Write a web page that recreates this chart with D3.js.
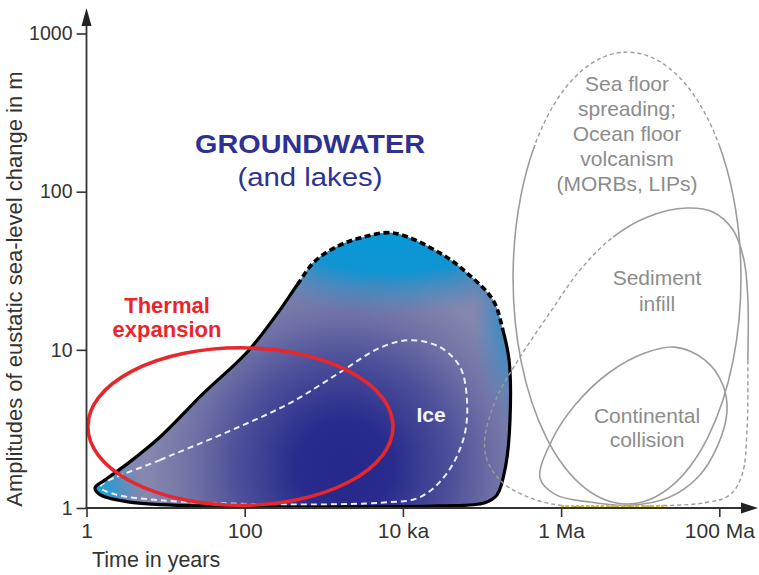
<!DOCTYPE html>
<html><head><meta charset="utf-8">
<script src="https://cdn.jsdelivr.net/npm/d3@7"></script>
<style>
body{margin:0;background:#fff}
svg{display:block}
text{font-family:"Liberation Sans",Arial,Helvetica,sans-serif}
</style>
</head><body>
<svg id="chart" width="759" height="575"></svg>
<script>
// ---------- data ----------
const xTicks = [1, 100, 1e4, 1e6, 1e8];
const xTickLabels = ["1", "100", "10 ka", "1 Ma", "100 Ma"];
const yTicks = [1, 10, 100, 1000];
const yTickLabels = ["1", "10", "100", "1000"];

// Groundwater envelope (time in years, amplitude in m); top part from index 19 back to 0 is dashed
const groundwaterTime = [1.38e5,1.84e5,2.2e5,2.26e5,2.0e5,1.55e5,1.09e5,2.9e4,1200,27,3.5,1.5,1.28,1.7,3.5,8.5,30,110,280,460,774,1513,2870,7500,29400,64600];
const groundwaterAmp  = [20.6,13.3,8.6,3.6,1.87,1.21,1.08,1.03,1.015,1.03,1.09,1.21,1.34,1.5,1.95,2.81,5.3,9.8,17.9,25.7,36.4,45.3,50.9,54.8,40.9,30.6];
const groundwaterDashFrom = 19;

// Ice envelope
const iceTime = [1.49,8.5,60,374,1600,5130,12300,29400,52700,64600,59200,36100,16400,5130,117,8.5,2.3];
const iceAmp  = [1.36,2.01,3.02,4.61,7.2,10.3,11.5,10.4,7.8,4.8,2.81,1.66,1.17,1.08,1.06,1.12,1.22];

// Thermal expansion (ellipse extents)
const thermalTimeRange = [1.04, 7500];
const thermalAmpRange  = [1.04, 10.3];

// Sea floor spreading (ellipse extents), dashed above given amplitude
const spreadingTimeRange = [2.47e5, 1.88e8];
const spreadingAmpRange  = [1.06, 763];
const spreadingDashAbove = 197;

// Sediment infill envelope; dashed from index 8 back to 0
const sedimentTime = [1.73e6,4.53e6,1.22e7,3.9e7,8.3e7,1.49e8,2.05e8,2.3e8,2.3e8,2.24e8,1.94e8,1.36e8,6.6e7,1.33e7,3.1e6,9.7e5,4.05e5,1.84e5,1.16e5,1.09e5,1.55e5,3.03e5,7.2e5];
const sedimentAmp  = [31.9,51.6,69,78.8,74.3,57.2,37,20.6,8.6,3.11,1.62,1.21,1.08,1.03,1.015,1.04,1.16,1.44,2.01,2.81,5.03,9.0,17.1];
const sedimentDashFrom = 8;

// Continental collision envelope
const collisionTime = [5.41e5,7.67e5,1.5e6,4.15e6,1.15e7,2.75e7,6.6e7,1.11e8,1.25e8,9.6e7,5.4e7,2.25e7,7.4e6,2.3e6,8.4e5];
const collisionAmp  = [1.55,2.69,4.48,7.24,9.55,10.4,8.6,5.99,4.05,2.5,1.57,1.16,1.04,1.09,1.22];

// Yellow base segment
const baseTimeRange = [1e6, 2.2e7];
const baseAmp = 1.03;

// ---------- chart ----------
const svg = d3.select("#chart");
const x = d3.scaleLog().domain([1, 1e8]).range([86.5, 719.3]);
const y = d3.scaleLog().domain([1, 1000]).range([508, 33.5]);

const zip = (a, b) => a.map((v, i) => [v, b[i]]);
const closedLine = d3.line().x(d => x(d[0])).y(d => y(d[1])).curve(d3.curveCatmullRomClosed.alpha(0.5));

const defs = svg.append("defs");

function lengthAt(node, px, py) {
  const T = node.getTotalLength();
  let best = 0, bd = Infinity;
  for (let s = 0; s <= T; s += 0.5) {
    const p = node.getPointAtLength(s);
    const d = (p.x - px) ** 2 + (p.y - py) ** 2;
    if (d < bd) { bd = d; best = s; }
  }
  return best;
}
function dashedArray(s, T, dash, gap) {
  const arr = [0, s];
  let L = s;
  while (L < T) { arr.push(dash, gap); L += dash + gap; }
  arr.push(0, T);
  return arr.join(" ");
}

// ----- groundwater blob -----
const gwPts = zip(groundwaterTime, groundwaterAmp);
const gwD = closedLine(gwPts);

defs.append("clipPath").attr("id", "gwClip").append("path").attr("d", gwD);

const base = defs.append("radialGradient").attr("id", "gwBase")
  .attr("gradientUnits", "userSpaceOnUse")
  .attr("cx", x(1800)).attr("cy", y(1.8)).attr("r", 195);
[[0, "#25278a"], [0.25, "#292c8c"], [0.55, "#4c4f99"], [0.78, "#6f71a6"], [1, "#8587ae"]]
  .forEach(([o, c]) => base.append("stop").attr("offset", o).attr("stop-color", c));

function blueGrad(id, stops) {
  const g = defs.append("radialGradient").attr("id", id);
  stops.forEach(([o, c, op]) => g.append("stop").attr("offset", o).attr("stop-color", c).attr("stop-opacity", op));
}
blueGrad("blueA", [[0, "#0898d8", 1], [0.5, "#0a95d4", 0.95], [0.75, "#2a8cc8", 0.5], [1, "#3a88c0", 0]]);
blueGrad("blueB", [[0, "#1592cf", 0.85], [0.5, "#2a8cc8", 0.55], [1, "#3a88c0", 0]]);
blueGrad("blueC", [[0, "#18a2dc", 1], [0.4, "#2a9ad2", 0.8], [1, "#4a90c8", 0]]);

const gwG = svg.append("g");
gwG.append("path").attr("d", gwD).attr("fill", "url(#gwBase)");
const glow = gwG.append("g").attr("clip-path", "url(#gwClip)");
glow.append("ellipse").attr("cx", x(7000)).attr("cy", y(56)).attr("rx", 195).attr("ry", 84).attr("fill", "url(#blueA)");
glow.append("ellipse").attr("cx", x(2.6e5)).attr("cy", y(16)).attr("rx", 42).attr("ry", 110).attr("fill", "url(#blueB)");
glow.append("ellipse").attr("cx", x(1.3)).attr("cy", y(1.3)).attr("rx", 48).attr("ry", 40).attr("fill", "url(#blueC)");

// ice dashed
svg.append("path").attr("d", closedLine(zip(iceTime, iceAmp)))
  .attr("fill", "none").attr("stroke", "#eeeef6").attr("stroke-width", 2)
  .attr("stroke-dasharray", "6 4");

// blob outline: solid + dashed
const gwOutline = svg.append("path").attr("d", gwD).attr("fill", "none")
  .attr("stroke", "#000").attr("stroke-width", 3.2).attr("stroke-linejoin", "round");
{
  const node = gwOutline.node();
  const T = node.getTotalLength();
  const p = gwPts[groundwaterDashFrom];
  const s = lengthAt(node, x(p[0]), y(p[1]));
  gwOutline.attr("stroke-dasharray", `${s} ${T + 10}`);
  svg.append("path").attr("d", gwD).attr("fill", "none")
    .attr("stroke", "#000").attr("stroke-width", 3.6)
    .attr("stroke-dasharray", dashedArray(s, T, 6, 3.5));
}

// ----- right-hand gray shapes -----
const gray = "#9c9c9c";
const sCx = (x(spreadingTimeRange[0]) + x(spreadingTimeRange[1])) / 2;
const sCy = (y(spreadingAmpRange[0]) + y(spreadingAmpRange[1])) / 2;
const sRx = (x(spreadingTimeRange[1]) - x(spreadingTimeRange[0])) / 2;
const sRy = (y(spreadingAmpRange[0]) - y(spreadingAmpRange[1])) / 2;
const cut = y(spreadingDashAbove);
defs.append("clipPath").attr("id", "clipBelow").append("rect").attr("x", 0).attr("y", cut).attr("width", 759).attr("height", 575);
defs.append("clipPath").attr("id", "clipAbove").append("rect").attr("x", 0).attr("y", 0).attr("width", 759).attr("height", cut);
svg.append("ellipse").attr("cx", sCx).attr("cy", sCy).attr("rx", sRx).attr("ry", sRy)
  .attr("fill", "none").attr("stroke", gray).attr("stroke-width", 1.6).attr("clip-path", "url(#clipBelow)");
svg.append("ellipse").attr("cx", sCx).attr("cy", sCy).attr("rx", sRx).attr("ry", sRy)
  .attr("fill", "none").attr("stroke", gray).attr("stroke-width", 1.4).attr("stroke-dasharray", "4 3")
  .attr("clip-path", "url(#clipAbove)");

const sedPts = zip(sedimentTime, sedimentAmp);
const sedD = closedLine(sedPts);
const sedSolid = svg.append("path").attr("d", sedD).attr("fill", "none").attr("stroke", gray).attr("stroke-width", 1.6);
{
  const node = sedSolid.node();
  const T = node.getTotalLength();
  const p = sedPts[sedimentDashFrom];
  const s = lengthAt(node, x(p[0]), y(p[1]));
  sedSolid.attr("stroke-dasharray", `${s} ${T + 10}`);
  svg.append("path").attr("d", sedD).attr("fill", "none").attr("stroke", gray).attr("stroke-width", 1.4)
    .attr("stroke-dasharray", dashedArray(s, T, 4, 3));
}

svg.append("path").attr("d", closedLine(zip(collisionTime, collisionAmp)))
  .attr("fill", "none").attr("stroke", gray).attr("stroke-width", 1.6);

svg.append("line").attr("x1", x(baseTimeRange[0])).attr("x2", x(baseTimeRange[1]))
  .attr("y1", y(baseAmp)).attr("y2", y(baseAmp))
  .attr("stroke", "#d9c300").attr("stroke-width", 2).attr("stroke-dasharray", "3 2");

svg.append("ellipse")
  .attr("cx", (x(thermalTimeRange[0]) + x(thermalTimeRange[1])) / 2)
  .attr("cy", (y(thermalAmpRange[0]) + y(thermalAmpRange[1])) / 2)
  .attr("rx", (x(thermalTimeRange[1]) - x(thermalTimeRange[0])) / 2)
  .attr("ry", (y(thermalAmpRange[0]) - y(thermalAmpRange[1])) / 2)
  .attr("fill", "none").attr("stroke", "#e8262b").attr("stroke-width", 3.6);

// ----- axes -----
const axCol = "#333";
const xAxis = d3.axisBottom(x).tickValues(xTicks).tickFormat((d, i) => xTickLabels[i])
  .tickSize(9).tickSizeOuter(0).tickPadding(6);
const gx = svg.append("g").attr("transform", `translate(0,${y(1)})`).call(xAxis);
gx.select(".domain").remove();
gx.selectAll("line").attr("stroke", axCol).attr("stroke-width", 1.6);
gx.selectAll("text").attr("font-size", 21).attr("fill", axCol)
  .style("font-family", '"Liberation Sans",Arial,sans-serif');

const yAxis = d3.axisLeft(y).tickValues(yTicks).tickFormat((d, i) => yTickLabels[i])
  .tickSize(10).tickSizeOuter(0).tickPadding(4);
const gy = svg.append("g").attr("transform", `translate(${x(1)},0)`).call(yAxis);
gy.select(".domain").remove();
gy.selectAll("line").attr("stroke", axCol).attr("stroke-width", 1.6);
gy.selectAll("text").attr("font-size", 19.5).attr("fill", axCol)
  .style("font-family", '"Liberation Sans",Arial,sans-serif');

const x0 = x(1), y0 = y(1);
svg.append("line").attr("x1", x0).attr("x2", x0).attr("y1", y0 + 1).attr("y2", 22).attr("stroke", axCol).attr("stroke-width", 1.8);
svg.append("path").attr("d", `M${x0},8 L${x0 - 5},26 L${x0 + 5},26 Z`).attr("fill", "#222");
svg.append("line").attr("x1", x0 - 1).attr("x2", 745).attr("y1", y0).attr("y2", y0).attr("stroke", axCol).attr("stroke-width", 1.8);
svg.append("path").attr("d", `M758,${y0} L741,${y0 - 5.5} L741,${y0 + 5.5} Z`).attr("fill", "#222");

svg.append("text").attr("x", 92).attr("y", 567).attr("font-size", 21.5).attr("fill", axCol).text("Time in years");
svg.append("text").attr("transform", "translate(22,289) rotate(-90)").attr("text-anchor", "middle")
  .attr("font-size", 22).attr("fill", axCol).text("Amplitudes of eustatic sea-level change in m");

// ----- labels -----
const navy = "#2e3192";
svg.append("text").attr("x", 310).attr("y", 153).attr("text-anchor", "middle").attr("font-size", 25)
  .attr("font-weight", "bold").attr("fill", navy).attr("textLength", 230).attr("lengthAdjust", "spacingAndGlyphs").text("GROUNDWATER");
svg.append("text").attr("x", 310).attr("y", 186).attr("text-anchor", "middle").attr("font-size", 25)
  .attr("fill", navy).attr("textLength", 145).attr("lengthAdjust", "spacingAndGlyphs").text("(and lakes)");

const red = "#e8262b";
[["Thermal", 313], ["expansion", 337]].forEach(([t, yy]) =>
  svg.append("text").attr("x", 167).attr("y", yy).attr("text-anchor", "middle").attr("font-size", 22)
    .attr("font-weight", "bold").attr("fill", red).text(t));

svg.append("text").attr("x", 431).attr("y", 422).attr("text-anchor", "middle").attr("font-size", 21)
  .attr("font-weight", "bold").attr("fill", "#f4f4fa").text("Ice");

const gtxt = "#8c8c8c";
[["Sea floor", 91], ["spreading;", 116], ["Ocean floor", 141], ["volcanism", 166], ["(MORBs, LIPs)", 191]]
  .forEach(([t, yy]) => svg.append("text").attr("x", 627).attr("y", yy).attr("text-anchor", "middle")
    .attr("font-size", 21).attr("fill", gtxt).text(t));
[["Sediment", 285], ["infill", 311]]
  .forEach(([t, yy]) => svg.append("text").attr("x", 657).attr("y", yy).attr("text-anchor", "middle")
    .attr("font-size", 21).attr("fill", gtxt).text(t));
[["Continental", 423], ["collision", 447]]
  .forEach(([t, yy]) => svg.append("text").attr("x", 647).attr("y", yy).attr("text-anchor", "middle")
    .attr("font-size", 21).attr("fill", gtxt).text(t));
</script>
</body></html>
